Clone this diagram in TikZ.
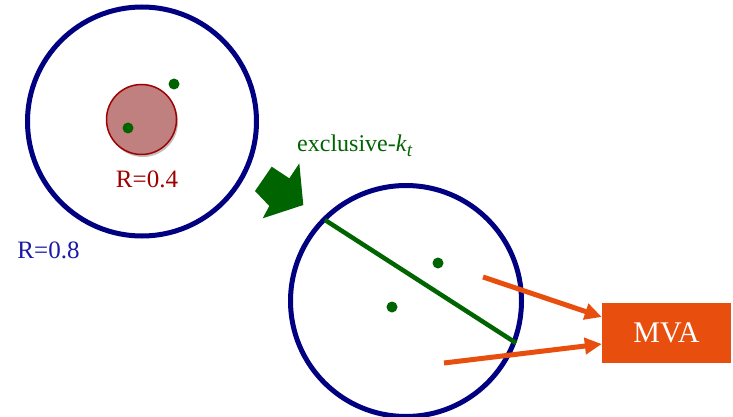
\documentclass[tikz,border=0pt]{standalone}
\usepackage{fontspec}
\setmainfont{Liberation Serif}
\usetikzlibrary{arrows.meta,shadows,calc}
\definecolor{navyb}{HTML}{000080}
\definecolor{labblue}{HTML}{1A1AA6}
\definecolor{dgreen}{HTML}{006400}
\definecolor{rfill}{HTML}{C08080}
\definecolor{rdraw}{HTML}{A00000}
\definecolor{orng}{HTML}{E84E0E}
\tikzset{
  bigcirc/.style={circle,draw=navyb,line width=5pt,inner sep=0pt},
  dotn/.style={circle,fill=dgreen,inner sep=0pt,minimum size=11pt},
  lab/.style={anchor=base,inner sep=0pt,font=\fontsize{25}{28}\selectfont},
  orarrow/.style={draw=orng,line width=5pt,-{Triangle[length=17pt,width=16pt]},shorten >=0pt},
}
\begin{document}
\begin{tikzpicture}[x=1pt,y=-1pt]
\useasboundingbox (0,0) rectangle (733,417);
% first circle
\node[bigcirc,minimum size=229pt] (c1) at (142,121.5) {};
\node[circle,draw=rdraw,fill=rfill,line width=1.5pt,minimum size=70pt,inner sep=0pt,
      drop shadow={shadow xshift=1.5pt,shadow yshift=-2.5pt,opacity=0.25,fill=black}] (r1) at (141.5,119.5) {};
\node[dotn] (d1) at (174,84) {};
\node[dotn] (d2) at (128,128) {};
\node[lab,text=rdraw] (l04) at (147,187) {R=0.4};
\node[lab,text=labblue] (l08) at (48.5,258) {R=0.8};
% green arrow
\fill[dgreen] (255,191) -- (271.7,166.7) -- (289.3,178.3) -- (299.3,163.3) -- (303.3,205) -- (262.7,218.3) -- (269.3,206) -- cycle;
\node[anchor=base west,inner sep=0pt,text=dgreen,font=\fontsize{24}{28}\selectfont] (exk) at (297,151) {exclusive-\textit{k}\raisebox{-0.22em}{\fontsize{19}{20}\selectfont\itshape t}};
% second circle
\node[bigcirc,minimum size=231pt] (c2) at (406,301) {};
\coordinate (g1) at (325,220);
\coordinate (g2) at (516,343);
\draw[dgreen,line width=4.5pt] (g1) -- (g2);
\node[dotn] (d3) at (438,263) {};
\node[dotn] (d4) at (392,307) {};
% MVA
\node[fill=orng,minimum width=129pt,minimum height=60pt,inner sep=0pt,text=white,font=\fontsize{30}{32}\selectfont] (mva) at (666.5,333) {MVA};
\coordinate (s1) at (483,277);
\coordinate (s2) at (444,363);
\draw[orarrow] (s1) -- ($(mva.west)+(0,-16)$);
\draw[orarrow] (s2) -- ($(mva.west)+(0,11)$);
\end{tikzpicture}
\end{document}
